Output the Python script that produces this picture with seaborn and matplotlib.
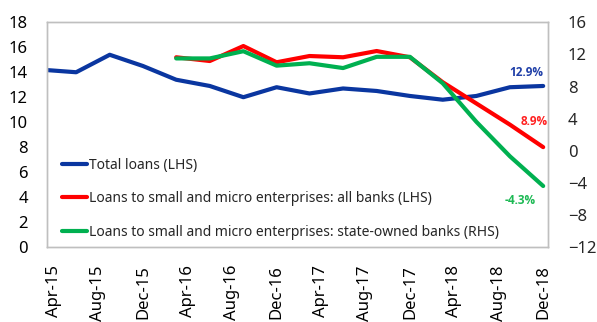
import pandas as pd
import matplotlib
matplotlib.use("Agg")
import matplotlib.pyplot as plt
import seaborn as sns

# Quarterly observations (year-on-year growth, %)
quarters = ["Mar-15", "Jun-15", "Sep-15", "Dec-15", "Mar-16", "Jun-16", "Sep-16", "Dec-16",
            "Mar-17", "Jun-17", "Sep-17", "Dec-17", "Mar-18", "Jun-18", "Sep-18", "Dec-18"]
total_loans = [14.2, 14.0, 15.4, 14.5, 13.4, 12.9, 12.0, 12.8,
               12.3, 12.7, 12.5, 12.1, 11.8, 12.1, 12.8, 12.9]
sme_all_banks = [None, None, None, None, 15.2, 14.9, 16.1, 14.8,
                 15.3, 15.2, 15.7, 15.2, 13.2, 11.5, 9.8, 8.0]
sme_state_banks = [None, None, None, None, 11.5, 11.5, 12.4, 10.6,
                   10.9, 10.3, 11.7, 11.7, 8.4, 3.6, -0.7, -4.4]

end_labels = ["12.9%", "8.9%", "-4.3%"]
tick_labels = ["Apr-15", "Aug-15", "Dec-15", "Apr-16", "Aug-16", "Dec-16",
               "Apr-17", "Aug-17", "Dec-17", "Apr-18", "Aug-18", "Dec-18"]

df = pd.DataFrame({
    "date": pd.to_datetime(quarters, format="%b-%y"),
    "total": total_loans,
    "sme_all": pd.to_numeric(pd.Series(sme_all_banks), errors="coerce"),
    "sme_state": pd.to_numeric(pd.Series(sme_state_banks), errors="coerce"),
})

sns.set_style("white")
plt.rcParams["font.family"] = ["Noto Sans", "DejaVu Sans"]

blue = "#0A36A0"
red = "#FF0000"
green = "#00B050"

fig = plt.figure(figsize=(5.97, 3.22), dpi=100)
ax = fig.add_axes([0.0792, 0.2329, 0.8392, 0.6978])
ax2 = ax.twinx()

sns.lineplot(data=df, x="date", y="total", ax=ax, color=blue, lw=3,
             label="Total loans (LHS)", legend=False)
sns.lineplot(data=df.dropna(subset=["sme_all"]), x="date", y="sme_all", ax=ax, color=red, lw=3,
             label="Loans to small and micro enterprises: all banks (LHS)", legend=False)
sns.lineplot(data=df.dropna(subset=["sme_state"]), x="date", y="sme_state", ax=ax2, color=green, lw=3,
             label="Loans to small and micro enterprises: state-owned banks (RHS)", legend=False)

ax.set_xlim(pd.Timestamp("2015-03-14"), pd.Timestamp("2018-12-15"))
ax.set_ylim(0, 18)
ax.set_yticks(range(0, 19, 2))
ax2.set_ylim(-12, 16)
ax2.set_yticks(range(-12, 17, 4))

ax.set_xticks(pd.to_datetime(tick_labels, format="%b-%y"))
ax.set_xticklabels(tick_labels, rotation=90)
ax.set_xlabel("")
ax.set_ylabel("")
ax2.set_ylabel("")

ax.tick_params(axis="both", length=0, labelsize=12, colors="#000000")
ax.tick_params(axis="y", pad=14)
ax.tick_params(axis="x", pad=13)
ax2.tick_params(axis="y", length=0, labelsize=12, pad=14)

for a in (ax, ax2):
    for s in a.spines.values():
        s.set_color("#BFBFBF")
        s.set_linewidth(1)

# End-point labels
lab_font = ["Open Sans", "DejaVu Sans"]
last = df.iloc[-1]
ax.annotate(end_labels[0], (last["date"], last["total"]), xytext=(-12.5, 9.6),
            textcoords="offset points", ha="center", va="center", family=lab_font,
            color="#1F3FA8", fontsize=8.5, fontweight="bold")
ax.annotate(end_labels[1], (last["date"], last["sme_all"]), xytext=(-6.5, 18.5),
            textcoords="offset points", ha="center", va="center", family=lab_font,
            color="#FF2020", fontsize=8.5, fontweight="bold")
ax2.annotate(end_labels[2], (last["date"], last["sme_state"]), xytext=(-16.8, -10.3),
             textcoords="offset points", ha="center", va="center", family=lab_font,
             color="#1DB954", fontsize=8.5, fontweight="bold")

h1, l1 = ax.get_legend_handles_labels()
h2, l2 = ax2.get_legend_handles_labels()
ax2.legend(h1 + h2, l1 + l2, loc="lower left", bbox_to_anchor=(0.016, 0.0),
           frameon=False, fontsize=10, handlelength=1.8, handletextpad=0.1,
           labelspacing=1.35, borderaxespad=0.2, borderpad=0.3)

fig.savefig("out.png", dpi=100)
